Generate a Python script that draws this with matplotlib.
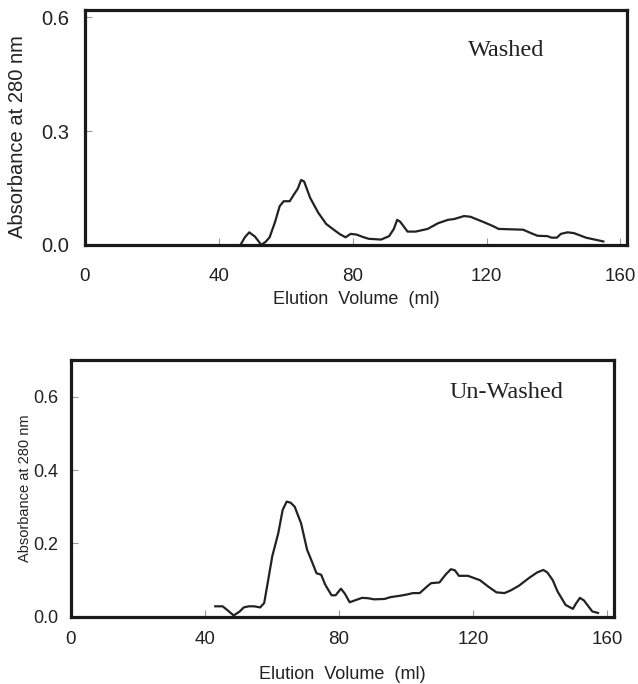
import matplotlib
matplotlib.use('Agg')
import matplotlib.pyplot as plt

# washed sample (top panel)
washed_ml = [46.5, 47.8, 49.1, 50.8, 52.7, 54.0, 55.2, 56.8, 58.2, 59.4, 61.2,
             62.4, 63.6, 64.6, 65.5, 66.3, 67.3, 69.7, 72.1, 74.5, 76.2, 77.9,
             79.4, 81.2, 83.0, 84.8, 88.5, 90.9, 92.3, 93.3, 94.2, 96.4, 98.8,
             102.4, 105.5, 108.5, 110.3, 113.3, 115.2, 119.4, 121.8, 123.6,
             130.9, 133.0, 135.2, 138.2, 139.4, 141.0, 142.2, 144.2, 146.1,
             149.7, 154.9]
washed_abs = [0.0, 0.02, 0.033, 0.022, 0.0, 0.008, 0.02, 0.06, 0.102, 0.115,
              0.115, 0.132, 0.148, 0.171, 0.167, 0.148, 0.124, 0.085, 0.055,
              0.039, 0.028, 0.02, 0.029, 0.027, 0.021, 0.016, 0.014, 0.023,
              0.042, 0.066, 0.061, 0.035, 0.035, 0.042, 0.057, 0.066, 0.068,
              0.076, 0.074, 0.059, 0.05, 0.042, 0.04, 0.032, 0.024, 0.023,
              0.019, 0.019, 0.029, 0.033, 0.031, 0.019, 0.009]

# un-washed sample (bottom panel)
unwashed_ml = [43.1, 45.3, 46.8, 48.6, 50.4, 51.6, 53.1, 54.7, 56.5, 57.7,
               58.9, 60.1, 61.9, 63.2, 64.4, 65.6, 66.8, 68.7, 70.5, 72.1,
               73.3, 74.7, 75.9, 77.8, 79.0, 80.6, 81.8, 83.2, 84.7, 86.9,
               88.7, 90.5, 93.6, 95.4, 98.4, 100.2, 102.1, 104.1, 106.3, 107.5,
               110.0, 111.8, 113.4, 114.6, 115.8, 118.5, 122.1, 124.5, 127.0,
               129.4, 131.2, 133.7, 136.7, 139.1, 141.0, 142.2, 143.8, 145.2,
               147.6, 149.8, 150.7, 151.9, 153.1, 155.6, 157.3]
unwashed_abs = [0.029, 0.029, 0.018, 0.004, 0.015, 0.026, 0.029, 0.029, 0.026,
                0.038, 0.101, 0.165, 0.228, 0.291, 0.314, 0.311, 0.300, 0.255,
                0.183, 0.147, 0.119, 0.115, 0.088, 0.059, 0.059, 0.077, 0.063,
                0.040, 0.045, 0.052, 0.051, 0.048, 0.049, 0.054, 0.058, 0.061,
                0.065, 0.065, 0.083, 0.092, 0.094, 0.115, 0.130, 0.127, 0.112,
                0.112, 0.100, 0.083, 0.067, 0.065, 0.072, 0.085, 0.106, 0.121,
                0.128, 0.121, 0.100, 0.070, 0.033, 0.022, 0.036, 0.052, 0.045,
                0.015, 0.011]

x_ticks = [0, 40, 80, 120, 160]
INK = '#222222'

plt.rcParams['font.family'] = ['Liberation Sans', 'DejaVu Sans']

fig = plt.figure(figsize=(6.38, 6.84), dpi=100)
ax1 = fig.add_axes([0.133, 0.642, 0.850, 0.344])
ax2 = fig.add_axes([0.111, 0.098, 0.851, 0.376])


def style(ax, yticks, ylim, tick_fs, ylab_fs, xpad, ypad):
    ax.set_xlim(0, 162)
    ax.set_ylim(*ylim)
    ax.set_xticks(x_ticks)
    ax.set_yticks(yticks)
    ax.set_yticklabels([f'{v:.1f}' for v in yticks])
    for s in ax.spines.values():
        s.set_linewidth(2.3)
        s.set_color('#1a1a1a')
    ax.tick_params(direction='in', length=5, width=0.8, color='#9a9a9a',
                   labelcolor=INK)
    ax.tick_params(axis='x', pad=xpad, labelsize=13.5)
    ax.tick_params(axis='y', pad=ypad, labelsize=tick_fs)
    ax.set_xlabel('Elution  Volume  (ml)', fontsize=13, color=INK)
    ax.set_ylabel('Absorbance at 280 nm', fontsize=ylab_fs, color=INK)


serif = ['Liberation Serif', 'DejaVu Serif']

ax1.plot(washed_ml, washed_abs, color=INK, linewidth=1.6)
style(ax1, [0.0, 0.3, 0.6], (0, 0.62), 14.5, 14.5, 17, 11)
ax1.xaxis.labelpad = 4
ax1.yaxis.set_label_coords(-0.107, 0.46)
ax1.text(114.5, 0.513, 'Washed', family=serif,
         fontsize=17.5, color=INK, va='center', ha='left')

ax2.plot(unwashed_ml, unwashed_abs, color=INK, linewidth=1.6)
style(ax2, [0.0, 0.2, 0.4, 0.6], (0, 0.7), 13, 10.5, 10, 9)
ax2.xaxis.labelpad = 13
ax2.yaxis.set_label_coords(-0.072, 0.5)
ax2.text(113, 0.61, 'Un-Washed', family=serif,
         fontsize=17.5, color=INK, va='center', ha='left')

fig.savefig('out.png', dpi=100)
